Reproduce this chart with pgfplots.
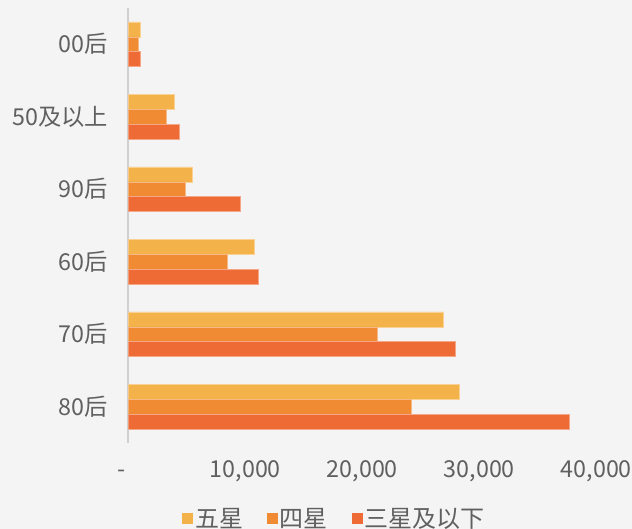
\documentclass[border=0pt]{standalone}
\usepackage{fontspec}
\setmainfont{Noto Sans CJK SC}
\usepackage{pgfplots}
\pgfplotsset{compat=1.18}
\definecolor{cfive}{HTML}{F4B24B}
\definecolor{cfour}{HTML}{F08B34}
\definecolor{cthree}{HTML}{EE6B35}
\definecolor{txt}{HTML}{606060}
\definecolor{bg}{HTML}{F4F4F4}
\definecolor{axl}{HTML}{D0D0D0}
\begin{document}
\begin{tikzpicture}
\fill[bg] (-128.3bp,-86bp) rectangle (503.7bp,443bp);
\begin{axis}[
  scale only axis, width=468bp, height=435bp,
  xbar, bar width=0.205,
  xmin=0, xmax=40000, ymin=-0.5, ymax=5.5,
  scaled x ticks=false,
  axis lines*=left,
  x axis line style={draw=none},
  y axis line style={draw=axl, line width=1.6bp},
  major tick length=0pt,
  ytick={0,1,2,3,4,5},
  yticklabels={80后,70后,60后,90后,50及以上,00后},
  xtick={0,10000,20000,30000,40000},
  xticklabels={{\llap{-\hspace{3bp}}},{10,000},{20,000},{30,000},{40,000}},
  every tick label/.append style={font=\fontsize{23.3bp}{27bp}\selectfont, text=txt},
  yticklabel style={inner sep=0pt, xshift=-20bp},
  xticklabel style={inner sep=0pt, text height=17bp, text depth=0bp, yshift=-17bp},
  legend columns=3,
  legend style={draw=none, fill=none, at={(0.4406,-0.1733)}, anchor=center,
    font=\fontsize{24bp}{28bp}\selectfont, text=txt,
    /tikz/every even column/.append style={column sep=22bp},
    /tikz/every odd column/.append style={column sep=0bp},
    cells={anchor=west, inner xsep=4.5bp}},
  legend image code/.code={\fill[#1,draw=none] (0bp,-5.5bp) rectangle (11bp,5.5bp);},
]
\addplot[fill=cfive, draw=cfive!60!white, line width=0.5bp, bar shift=0.205] coordinates {
  (28300,0) (26900,1) (10800,2) (5450,3) (3900,4) (1000,5)};
\addlegendentry{五星}
\addplot[fill=cfour, draw=cfour!60!white, line width=0.5bp, bar shift=0] coordinates {
  (24150,0) (21300,1) (8450,2) (4900,3) (3250,4) (830,5)};
\addlegendentry{四星}
\addplot[fill=cthree, draw=cthree!60!white, line width=0.5bp, bar shift=-0.205] coordinates {
  (37700,0) (27950,1) (11100,2) (9570,3) (4350,4) (1000,5)};
\addlegendentry{三星及以下}
\end{axis}
\pgfresetboundingbox
\path (-128.3bp,-86bp) rectangle (503.7bp,443bp);
\end{tikzpicture}
\end{document}
